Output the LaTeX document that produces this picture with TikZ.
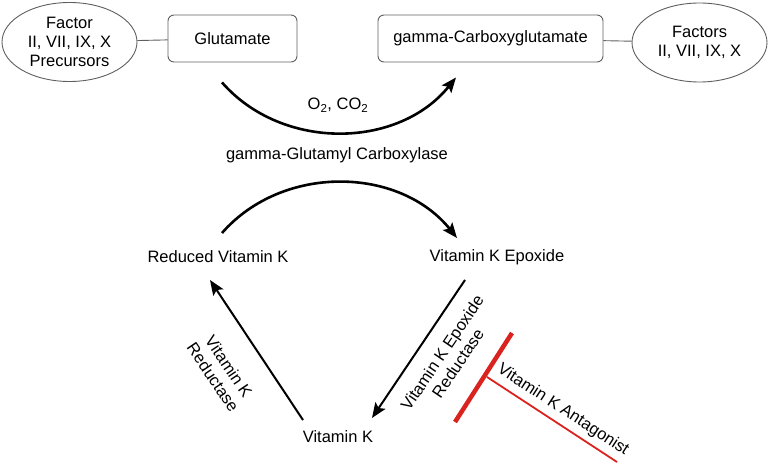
\documentclass[tikz,border=0pt]{standalone}
\usepackage{fontspec}
\setmainfont{Liberation Sans}
\usetikzlibrary{arrows.meta,shapes.geometric}
\definecolor{boxgray}{RGB}{95,95,95}
\definecolor{inhred}{RGB}{218,35,30}
\begin{document}
\begin{tikzpicture}[x=1pt,y=1pt,
  txt/.style={font=\fontsize{16.5}{19}\selectfont, align=center, inner sep=0pt},
  box/.style={draw=boxgray, line width=0.9pt, rounded corners=6pt, minimum width=129pt, minimum height=47pt, txt},
  ell/.style={ellipse, draw=boxgray, line width=0.9pt, minimum width=135pt, minimum height=79pt, inner sep=0pt, txt},
  link/.style={draw=boxgray, line width=0.9pt},
  curvearrow/.style={line width=2.6pt, -{Stealth[length=15pt,width=12pt,inset=3pt]}},
  straightarrow/.style={line width=2pt, -{Stealth[length=15pt,width=12pt,inset=3pt]}},
  thickbar/.style={draw=inhred, line width=4.5pt},
  thinbar/.style={draw=inhred, line width=1.8pt},
]
\useasboundingbox (0,0) rectangle (768,-465);

% top row
\node[ell] (fp) at (69.5,-42) {Factor\\II, VII, IX, X\\Precursors};
\node[box] (glu) at (232.5,-38.5) {Glutamate};
\node[box, minimum width=225pt] (gcg) at (490.5,-38.5) {gamma-Carboxyglutamate};
\node[ell] (fa) at (699.5,-42.5) {Factors\\II, VII, IX, X};
\draw[link] (fp) -- (glu);
\draw[link] (gcg) -- (fa);

% labels
\node[txt] (o2) at (338,-105) {O\textsubscript{2}, CO\textsubscript{2}};
\node[txt] (ggc) at (337,-155) {gamma-Glutamyl Carboxylase};

% cycle nodes
\node[txt] (rvk) at (218,-257) {Reduced Vitamin K};
\node[txt] (vke) at (497,-257) {Vitamin K Epoxide};
\node[txt] (vk) at (338,-437) {Vitamin K};

% arcs
\draw[curvearrow] ([shift={(-10.5,-20)}]glu.south) to[bend right=50] ([shift={(-34.5,-15)}]gcg.south);
\draw[curvearrow] ([shift={(4,24)}]rvk.center) to[bend left=50] ([shift={(-40,19)}]vke.center);

% straight arrows
\draw[straightarrow] ([shift={(-35,17)}]vk.center) -- ([shift={(-8,-23)}]rvk.center);
\draw[straightarrow] ([shift={(-32,-23)}]vke.center) -- ([shift={(34,19)}]vk.center);

% rotated labels
\node[txt, rotate=-56] (vkr) at (221,-372) {Vitamin K\\Reductase};
\node[txt, rotate=56] (vker) at (450,-358) {Vitamin K Epoxide\\Reductase};

% antagonist
\coordinate (tb1) at (512,-333);
\coordinate (tb2) at (455,-422);
\coordinate (tj) at (487,-377);
\coordinate (te) at (617,-462);
\draw[thickbar] (tb1) -- (tb2);
\draw[thinbar] (tj) -- (te);
\node[txt, rotate=-33] (vka) at (563,-410) {Vitamin K Antagonist};
\end{tikzpicture}
\end{document}
